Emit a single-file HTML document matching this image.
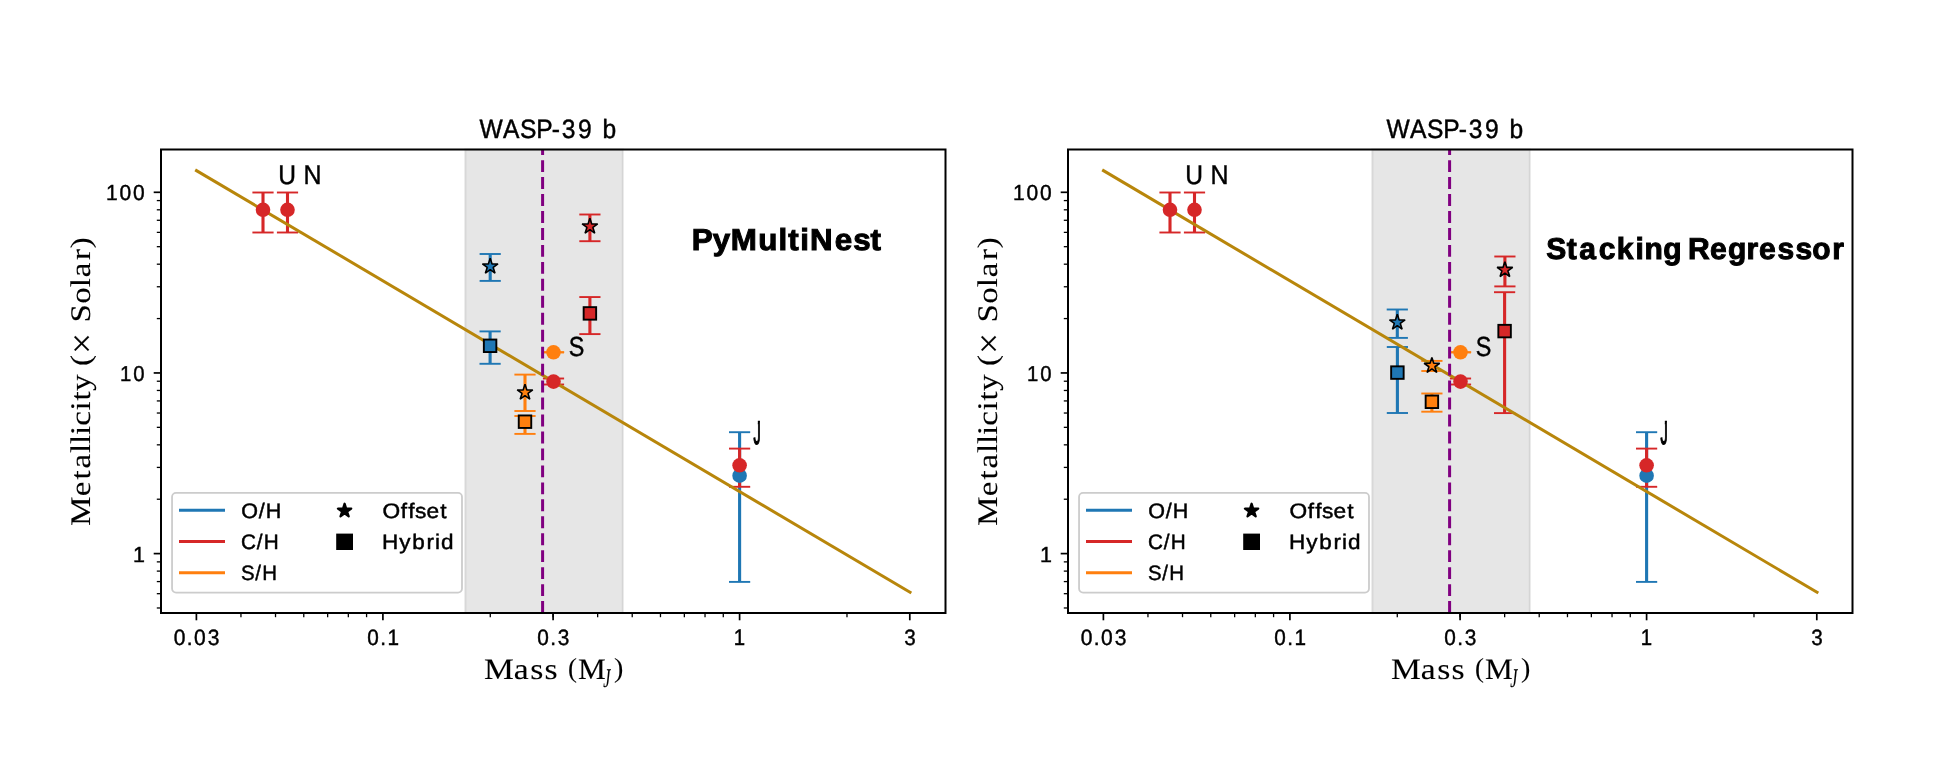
<!DOCTYPE html>
<html><head><meta charset="utf-8"><style>
html,body{margin:0;padding:0;background:#fff;width:1956px;height:780px;overflow:hidden}
svg{display:block;will-change:transform}
text{font-kerning:none;text-rendering:geometricPrecision}
</style></head><body>
<svg width="1956" height="780" viewBox="0 0 1956 780">
<rect width="1956" height="780" fill="#fff"/>
<rect x="465.30" y="149.5" width="157.50" height="463.5" fill="rgba(128,128,128,0.2)" stroke="rgba(128,128,128,0.2)" stroke-width="2"/>
<line x1="263.00" y1="192.50" x2="263.00" y2="232.50" stroke="#d62728" stroke-width="3.1"/>
<line x1="252.40" y1="192.50" x2="273.60" y2="192.50" stroke="#d62728" stroke-width="1.9"/>
<line x1="252.40" y1="232.50" x2="273.60" y2="232.50" stroke="#d62728" stroke-width="1.9"/>
<line x1="287.50" y1="192.50" x2="287.50" y2="232.50" stroke="#d62728" stroke-width="3.1"/>
<line x1="276.90" y1="192.50" x2="298.10" y2="192.50" stroke="#d62728" stroke-width="1.9"/>
<line x1="276.90" y1="232.50" x2="298.10" y2="232.50" stroke="#d62728" stroke-width="1.9"/>
<line x1="490.20" y1="254.00" x2="490.20" y2="280.90" stroke="#1f77b4" stroke-width="3.1"/>
<line x1="479.60" y1="254.00" x2="500.80" y2="254.00" stroke="#1f77b4" stroke-width="1.9"/>
<line x1="479.60" y1="280.90" x2="500.80" y2="280.90" stroke="#1f77b4" stroke-width="1.9"/>
<line x1="490.10" y1="331.40" x2="490.10" y2="363.80" stroke="#1f77b4" stroke-width="3.1"/>
<line x1="479.50" y1="331.40" x2="500.70" y2="331.40" stroke="#1f77b4" stroke-width="1.9"/>
<line x1="479.50" y1="363.80" x2="500.70" y2="363.80" stroke="#1f77b4" stroke-width="1.9"/>
<line x1="589.90" y1="214.50" x2="589.90" y2="241.20" stroke="#d62728" stroke-width="3.1"/>
<line x1="579.30" y1="214.50" x2="600.50" y2="214.50" stroke="#d62728" stroke-width="1.9"/>
<line x1="579.30" y1="241.20" x2="600.50" y2="241.20" stroke="#d62728" stroke-width="1.9"/>
<line x1="589.90" y1="297.05" x2="589.90" y2="334.10" stroke="#d62728" stroke-width="3.1"/>
<line x1="579.30" y1="297.05" x2="600.50" y2="297.05" stroke="#d62728" stroke-width="1.9"/>
<line x1="579.30" y1="334.10" x2="600.50" y2="334.10" stroke="#d62728" stroke-width="1.9"/>
<line x1="525.00" y1="374.60" x2="525.00" y2="411.00" stroke="#ff7f0e" stroke-width="3.1"/>
<line x1="514.40" y1="374.60" x2="535.60" y2="374.60" stroke="#ff7f0e" stroke-width="1.9"/>
<line x1="514.40" y1="411.00" x2="535.60" y2="411.00" stroke="#ff7f0e" stroke-width="1.9"/>
<line x1="525.00" y1="416.00" x2="525.00" y2="433.90" stroke="#ff7f0e" stroke-width="3.1"/>
<line x1="514.40" y1="416.00" x2="535.60" y2="416.00" stroke="#ff7f0e" stroke-width="1.9"/>
<line x1="514.40" y1="433.90" x2="535.60" y2="433.90" stroke="#ff7f0e" stroke-width="1.9"/>
<line x1="739.60" y1="432.20" x2="739.60" y2="581.90" stroke="#1f77b4" stroke-width="3.1"/>
<line x1="729.00" y1="432.20" x2="750.20" y2="432.20" stroke="#1f77b4" stroke-width="1.9"/>
<line x1="729.00" y1="581.90" x2="750.20" y2="581.90" stroke="#1f77b4" stroke-width="1.9"/>
<line x1="739.60" y1="448.60" x2="739.60" y2="486.80" stroke="#d62728" stroke-width="3.1"/>
<line x1="729.00" y1="448.60" x2="750.20" y2="448.60" stroke="#d62728" stroke-width="1.9"/>
<line x1="729.00" y1="486.80" x2="750.20" y2="486.80" stroke="#d62728" stroke-width="1.9"/>
<line x1="553.50" y1="352.30" x2="553.50" y2="352.30" stroke="#ff7f0e" stroke-width="3.1"/>
<line x1="542.90" y1="352.30" x2="564.10" y2="352.30" stroke="#ff7f0e" stroke-width="1.9"/>
<line x1="542.90" y1="352.30" x2="564.10" y2="352.30" stroke="#ff7f0e" stroke-width="1.9"/>
<line x1="553.50" y1="378.50" x2="553.50" y2="384.50" stroke="#d62728" stroke-width="3.1"/>
<line x1="542.90" y1="378.50" x2="564.10" y2="378.50" stroke="#d62728" stroke-width="1.9"/>
<line x1="542.90" y1="384.50" x2="564.10" y2="384.50" stroke="#d62728" stroke-width="1.9"/>
<line x1="195.20" y1="169.9" x2="911.30" y2="593.0" stroke="#b8860b" stroke-width="3.0"/>
<path d="M542.60,613.0 L542.60,149.5" stroke="#800080" stroke-width="3" stroke-dasharray="11.9 5.06"/>
<circle cx="263.00" cy="209.80" r="7.3" fill="#d62728"/>
<circle cx="287.50" cy="209.80" r="7.3" fill="#d62728"/>
<path d="M490.20,258.30 L492.04,263.97 L498.00,263.97 L493.18,267.47 L495.02,273.13 L490.20,269.63 L485.38,273.13 L487.22,267.47 L482.40,263.97 L488.36,263.97 Z" fill="#1f77b4" stroke="#000" stroke-width="1.6" stroke-linejoin="bevel"/>
<rect x="483.85" y="339.55" width="12.5" height="12.5" fill="#1f77b4" stroke="#000" stroke-width="1.9"/>
<path d="M589.90,218.30 L591.74,223.97 L597.70,223.97 L592.88,227.47 L594.72,233.13 L589.90,229.63 L585.08,233.13 L586.92,227.47 L582.10,223.97 L588.06,223.97 Z" fill="#d62728" stroke="#000" stroke-width="1.6" stroke-linejoin="bevel"/>
<rect x="583.65" y="307.15" width="12.5" height="12.5" fill="#d62728" stroke="#000" stroke-width="1.9"/>
<path d="M525.00,384.30 L526.84,389.97 L532.80,389.97 L527.98,393.47 L529.82,399.13 L525.00,395.63 L520.18,399.13 L522.02,393.47 L517.20,389.97 L523.16,389.97 Z" fill="#ff7f0e" stroke="#000" stroke-width="1.6" stroke-linejoin="bevel"/>
<rect x="518.75" y="415.45" width="12.5" height="12.5" fill="#ff7f0e" stroke="#000" stroke-width="1.9"/>
<circle cx="739.60" cy="475.70" r="7.3" fill="#1f77b4"/>
<circle cx="739.60" cy="465.30" r="7.3" fill="#d62728"/>
<circle cx="553.50" cy="352.30" r="7.3" fill="#ff7f0e"/>
<circle cx="553.50" cy="381.60" r="7.3" fill="#d62728"/>
<line x1="196.39" y1="613.0" x2="196.39" y2="620.3" stroke="#000" stroke-width="1.7"/>
<line x1="382.90" y1="613.0" x2="382.90" y2="620.3" stroke="#000" stroke-width="1.7"/>
<line x1="553.09" y1="613.0" x2="553.09" y2="620.3" stroke="#000" stroke-width="1.7"/>
<line x1="739.60" y1="613.0" x2="739.60" y2="620.3" stroke="#000" stroke-width="1.7"/>
<line x1="909.79" y1="613.0" x2="909.79" y2="620.3" stroke="#000" stroke-width="1.7"/>
<line x1="240.95" y1="613.0" x2="240.95" y2="617.2" stroke="#000" stroke-width="1.3"/>
<line x1="275.52" y1="613.0" x2="275.52" y2="617.2" stroke="#000" stroke-width="1.3"/>
<line x1="303.77" y1="613.0" x2="303.77" y2="617.2" stroke="#000" stroke-width="1.3"/>
<line x1="327.65" y1="613.0" x2="327.65" y2="617.2" stroke="#000" stroke-width="1.3"/>
<line x1="348.33" y1="613.0" x2="348.33" y2="617.2" stroke="#000" stroke-width="1.3"/>
<line x1="366.58" y1="613.0" x2="366.58" y2="617.2" stroke="#000" stroke-width="1.3"/>
<line x1="490.28" y1="613.0" x2="490.28" y2="617.2" stroke="#000" stroke-width="1.3"/>
<line x1="553.09" y1="613.0" x2="553.09" y2="617.2" stroke="#000" stroke-width="1.3"/>
<line x1="597.65" y1="613.0" x2="597.65" y2="617.2" stroke="#000" stroke-width="1.3"/>
<line x1="632.22" y1="613.0" x2="632.22" y2="617.2" stroke="#000" stroke-width="1.3"/>
<line x1="660.47" y1="613.0" x2="660.47" y2="617.2" stroke="#000" stroke-width="1.3"/>
<line x1="684.35" y1="613.0" x2="684.35" y2="617.2" stroke="#000" stroke-width="1.3"/>
<line x1="705.03" y1="613.0" x2="705.03" y2="617.2" stroke="#000" stroke-width="1.3"/>
<line x1="723.28" y1="613.0" x2="723.28" y2="617.2" stroke="#000" stroke-width="1.3"/>
<line x1="846.98" y1="613.0" x2="846.98" y2="617.2" stroke="#000" stroke-width="1.3"/>
<line x1="161.0" y1="553.60" x2="153.7" y2="553.60" stroke="#000" stroke-width="1.7"/>
<line x1="161.0" y1="372.95" x2="153.7" y2="372.95" stroke="#000" stroke-width="1.7"/>
<line x1="161.0" y1="192.30" x2="153.7" y2="192.30" stroke="#000" stroke-width="1.7"/>
<line x1="161.0" y1="607.98" x2="156.8" y2="607.98" stroke="#000" stroke-width="1.3"/>
<line x1="161.0" y1="593.68" x2="156.8" y2="593.68" stroke="#000" stroke-width="1.3"/>
<line x1="161.0" y1="581.58" x2="156.8" y2="581.58" stroke="#000" stroke-width="1.3"/>
<line x1="161.0" y1="571.11" x2="156.8" y2="571.11" stroke="#000" stroke-width="1.3"/>
<line x1="161.0" y1="561.87" x2="156.8" y2="561.87" stroke="#000" stroke-width="1.3"/>
<line x1="161.0" y1="499.22" x2="156.8" y2="499.22" stroke="#000" stroke-width="1.3"/>
<line x1="161.0" y1="467.41" x2="156.8" y2="467.41" stroke="#000" stroke-width="1.3"/>
<line x1="161.0" y1="444.84" x2="156.8" y2="444.84" stroke="#000" stroke-width="1.3"/>
<line x1="161.0" y1="427.33" x2="156.8" y2="427.33" stroke="#000" stroke-width="1.3"/>
<line x1="161.0" y1="413.03" x2="156.8" y2="413.03" stroke="#000" stroke-width="1.3"/>
<line x1="161.0" y1="400.93" x2="156.8" y2="400.93" stroke="#000" stroke-width="1.3"/>
<line x1="161.0" y1="390.46" x2="156.8" y2="390.46" stroke="#000" stroke-width="1.3"/>
<line x1="161.0" y1="381.22" x2="156.8" y2="381.22" stroke="#000" stroke-width="1.3"/>
<line x1="161.0" y1="318.57" x2="156.8" y2="318.57" stroke="#000" stroke-width="1.3"/>
<line x1="161.0" y1="286.76" x2="156.8" y2="286.76" stroke="#000" stroke-width="1.3"/>
<line x1="161.0" y1="264.19" x2="156.8" y2="264.19" stroke="#000" stroke-width="1.3"/>
<line x1="161.0" y1="246.68" x2="156.8" y2="246.68" stroke="#000" stroke-width="1.3"/>
<line x1="161.0" y1="232.38" x2="156.8" y2="232.38" stroke="#000" stroke-width="1.3"/>
<line x1="161.0" y1="220.28" x2="156.8" y2="220.28" stroke="#000" stroke-width="1.3"/>
<line x1="161.0" y1="209.81" x2="156.8" y2="209.81" stroke="#000" stroke-width="1.3"/>
<line x1="161.0" y1="200.57" x2="156.8" y2="200.57" stroke="#000" stroke-width="1.3"/>
<rect x="161.0" y="149.5" width="784.5" height="463.5" fill="none" stroke="#000" stroke-width="2"/>
<text transform="translate(112.19,200.38) scale(0.9672,1)" x="-6.33 7.67 21.56" y="0" font-family='"Liberation Sans", sans-serif' font-weight="normal" font-style="normal" font-size="21.70" fill="#000" stroke="#000" stroke-width="0.45">100</text>
<text transform="translate(125.87,381.17) scale(0.9472,1)" x="-6.25 7.70" y="0" font-family='"Liberation Sans", sans-serif' font-weight="normal" font-style="normal" font-size="21.41" fill="#000" stroke="#000" stroke-width="0.45">10</text>
<text transform="translate(139.35,561.98) scale(0.9873,1)" x="-6.34" y="0" font-family='"Liberation Sans", sans-serif' font-weight="normal" font-style="normal" font-size="21.73" fill="#000" stroke="#000" stroke-width="0.45">1</text>
<text transform="translate(179.60,644.77) scale(0.9502,1)" x="-6.15 7.61 15.23 29.51" y="0" font-family='"Liberation Sans", sans-serif' font-weight="normal" font-style="normal" font-size="22.13" fill="#000" stroke="#000" stroke-width="0.45">0.03</text>
<text transform="translate(373.02,644.77) scale(0.9366,1)" x="-6.15 7.77 15.44" y="0" font-family='"Liberation Sans", sans-serif' font-weight="normal" font-style="normal" font-size="22.13" fill="#000" stroke="#000" stroke-width="0.45">0.1</text>
<text transform="translate(543.08,644.77) scale(0.9404,1)" x="-6.15 7.72 15.48" y="0" font-family='"Liberation Sans", sans-serif' font-weight="normal" font-style="normal" font-size="22.13" fill="#000" stroke="#000" stroke-width="0.45">0.3</text>
<text transform="translate(739.60,644.77) scale(0.9081,1)" x="-6.55" y="0" font-family='"Liberation Sans", sans-serif' font-weight="normal" font-style="normal" font-size="22.46" fill="#000" stroke="#000" stroke-width="0.45">1</text>
<text transform="translate(909.79,644.77) scale(0.9313,1)" x="-6.09" y="0" font-family='"Liberation Sans", sans-serif' font-weight="normal" font-style="normal" font-size="22.13" fill="#000" stroke="#000" stroke-width="0.45">3</text>
<text transform="translate(491.22,137.97) scale(0.9320,1)" x="-12.48 12.66 30.94 48.30 64.87 75.64 93.02 106.46 119.52" y="0" font-family='"Liberation Sans", sans-serif' font-weight="normal" font-style="normal" font-size="26.43" fill="#000" stroke="#000" stroke-width="0.45">WASP-39 b</text>
<text transform="translate(498.84,678.85) scale(1.1301,1)" x="-13.23 13.29 27.80 40.43" y="0" font-family='"Liberation Serif", serif' font-weight="normal" font-style="normal" font-size="29.78" fill="#000" stroke="#000" stroke-width="0.1">Mass</text>
<text transform="translate(572.50,677.10) scale(0.9783,1)" x="-4.73" y="0" font-family='"Liberation Serif", serif' font-weight="normal" font-style="normal" font-size="27.46" fill="#000" stroke="#000" stroke-width="0.1">(</text>
<text transform="translate(591.95,678.85) scale(1.0505,1)" x="-13.23" y="0" font-family='"Liberation Serif", serif' font-weight="normal" font-style="normal" font-size="29.78" fill="#000" stroke="#000" stroke-width="0.1">M</text>
<text transform="translate(607.20,687.19) scale(0.5953,1)" x="-6.71" y="0" font-family='"Liberation Serif", serif' font-weight="normal" font-style="italic" font-size="26.94" fill="#000" stroke="#000" stroke-width="0.1">J</text>
<text transform="translate(618.55,677.10) scale(1.0208,1)" x="-4.41" y="0" font-family='"Liberation Serif", serif' font-weight="normal" font-style="normal" font-size="27.46" fill="#000" stroke="#000" stroke-width="0.1">)</text>
<text transform="translate(90.35,524.20) rotate(-90) scale(1.0030,1)" x="169.79" y="3.84" font-family='"Liberation Serif", serif' font-size="37.17" fill="#000" stroke="#000" stroke-width="0.1">×</text>
<text transform="translate(90.35,524.20) rotate(-90) scale(1.1644,1)" x="-1.58 23.99 38.48 47.81 61.15 68.79 76.58 84.55 97.61 106.30 114.31 128.40 135.81 144.35 144.35 173.25 189.36 203.53 212.08 226.81 236.98" y="0" font-family='"Liberation Serif", serif' font-weight="normal" font-style="normal" font-size="28.39" fill="#000" stroke="#000" stroke-width="0.1">Metallicity (  Solar)</text>
<text transform="translate(287.00,183.58) scale(0.9111,1)" x="-9.74" y="0" font-family='"Liberation Sans", sans-serif' font-weight="normal" font-style="normal" font-size="26.96" fill="#000" stroke="#000" stroke-width="0.45">U</text>
<text transform="translate(312.40,183.58) scale(0.9262,1)" x="-9.74" y="0" font-family='"Liberation Sans", sans-serif' font-weight="normal" font-style="normal" font-size="26.96" fill="#000" stroke="#000" stroke-width="0.45">N</text>
<text transform="translate(576.45,355.77) scale(0.8474,1)" x="-9.19" y="0" font-family='"Liberation Sans", sans-serif' font-weight="normal" font-style="normal" font-size="27.57" fill="#000" stroke="#000" stroke-width="0.45">S</text>
<clipPath id="jclip0"><rect x="757.87" y="410" width="20" height="45"/><rect x="740" y="424.90" width="40" height="30.10"/></clipPath>
<g clip-path="url(#jclip0)"><text transform="translate(753.38,443.78) scale(0.5533,1.2623)" x="0" y="0" font-family='"Liberation Sans", sans-serif' font-size="26.0" fill="#000" stroke="#000" stroke-width="1.2">J</text></g>
<rect x="172.05" y="492.9" width="289.95" height="99.70" rx="4" ry="4" fill="#fff" fill-opacity="0.8" stroke="#cccccc" stroke-width="1.8"/>
<line x1="179" y1="510.30" x2="225" y2="510.30" stroke="#1f77b4" stroke-width="3.1"/>
<line x1="179" y1="541.55" x2="225" y2="541.55" stroke="#d62728" stroke-width="3.1"/>
<line x1="179" y1="572.80" x2="225" y2="572.80" stroke="#ff7f0e" stroke-width="3.1"/>
<text transform="translate(249.53,517.88) scale(1.0295,1)" x="-8.13 8.95 15.79" y="0" font-family='"Liberation Sans", sans-serif' font-weight="normal" font-style="normal" font-size="20.91" fill="#000" stroke="#000" stroke-width="0.45">O/H</text>
<text transform="translate(248.52,549.17) scale(0.9917,1)" x="-7.68 8.29 15.44" y="0" font-family='"Liberation Sans", sans-serif' font-weight="normal" font-style="normal" font-size="20.91" fill="#000" stroke="#000" stroke-width="0.45">C/H</text>
<text transform="translate(247.71,580.48) scale(0.9770,1)" x="-6.97 7.66 14.98" y="0" font-family='"Liberation Sans", sans-serif' font-weight="normal" font-style="normal" font-size="20.91" fill="#000" stroke="#000" stroke-width="0.45">S/H</text>
<path d="M344.60,503.70 L346.17,508.54 L351.26,508.54 L347.14,511.53 L348.71,516.36 L344.60,513.37 L340.49,516.36 L342.06,511.53 L337.94,508.54 L343.03,508.54 Z" fill="#000" stroke="#000" stroke-width="2.2" stroke-linejoin="round"/>
<rect x="336.2" y="533.6" width="16.8" height="16.4" fill="#000"/>
<text transform="translate(391.34,517.88) scale(1.0849,1)" x="-8.14 8.61 15.58 21.78 32.33 45.12" y="0" font-family='"Liberation Sans", sans-serif' font-weight="normal" font-style="normal" font-size="20.94" fill="#000" stroke="#000" stroke-width="0.45">Offset</text>
<text transform="translate(390.20,549.17) scale(1.0774,1)" x="-7.55 8.45 20.49 33.74 41.52 47.18" y="0" font-family='"Liberation Sans", sans-serif' font-weight="normal" font-style="normal" font-size="20.91" fill="#000" stroke="#000" stroke-width="0.45">Hybrid</text>
<text transform="translate(702.80,250.30) scale(1.0366,1)" x="-10.57 9.50 27.01 53.39 73.13 82.41 93.92 103.31 127.25 145.06 161.71" y="0" font-family='"Liberation Sans", sans-serif' font-weight="bold" font-style="normal" font-size="30.22" fill="#000" stroke="#000" stroke-width="1.0">PyMultiNest</text>
<rect x="1372.30" y="149.5" width="157.50" height="463.5" fill="rgba(128,128,128,0.2)" stroke="rgba(128,128,128,0.2)" stroke-width="2"/>
<line x1="1170.00" y1="192.50" x2="1170.00" y2="232.50" stroke="#d62728" stroke-width="3.1"/>
<line x1="1159.40" y1="192.50" x2="1180.60" y2="192.50" stroke="#d62728" stroke-width="1.9"/>
<line x1="1159.40" y1="232.50" x2="1180.60" y2="232.50" stroke="#d62728" stroke-width="1.9"/>
<line x1="1194.50" y1="192.50" x2="1194.50" y2="232.50" stroke="#d62728" stroke-width="3.1"/>
<line x1="1183.90" y1="192.50" x2="1205.10" y2="192.50" stroke="#d62728" stroke-width="1.9"/>
<line x1="1183.90" y1="232.50" x2="1205.10" y2="232.50" stroke="#d62728" stroke-width="1.9"/>
<line x1="1397.30" y1="309.50" x2="1397.30" y2="337.90" stroke="#1f77b4" stroke-width="3.1"/>
<line x1="1386.70" y1="309.50" x2="1407.90" y2="309.50" stroke="#1f77b4" stroke-width="1.9"/>
<line x1="1386.70" y1="337.90" x2="1407.90" y2="337.90" stroke="#1f77b4" stroke-width="1.9"/>
<line x1="1397.40" y1="347.00" x2="1397.40" y2="413.00" stroke="#1f77b4" stroke-width="3.1"/>
<line x1="1386.80" y1="347.00" x2="1408.00" y2="347.00" stroke="#1f77b4" stroke-width="1.9"/>
<line x1="1386.80" y1="413.00" x2="1408.00" y2="413.00" stroke="#1f77b4" stroke-width="1.9"/>
<line x1="1504.90" y1="256.50" x2="1504.90" y2="286.40" stroke="#d62728" stroke-width="3.1"/>
<line x1="1494.30" y1="256.50" x2="1515.50" y2="256.50" stroke="#d62728" stroke-width="1.9"/>
<line x1="1494.30" y1="286.40" x2="1515.50" y2="286.40" stroke="#d62728" stroke-width="1.9"/>
<line x1="1504.60" y1="292.20" x2="1504.60" y2="413.10" stroke="#d62728" stroke-width="3.1"/>
<line x1="1494.00" y1="292.20" x2="1515.20" y2="292.20" stroke="#d62728" stroke-width="1.9"/>
<line x1="1494.00" y1="413.10" x2="1515.20" y2="413.10" stroke="#d62728" stroke-width="1.9"/>
<line x1="1431.90" y1="360.90" x2="1431.90" y2="371.00" stroke="#ff7f0e" stroke-width="3.1"/>
<line x1="1421.30" y1="360.90" x2="1442.50" y2="360.90" stroke="#ff7f0e" stroke-width="1.9"/>
<line x1="1421.30" y1="371.00" x2="1442.50" y2="371.00" stroke="#ff7f0e" stroke-width="1.9"/>
<line x1="1431.90" y1="393.50" x2="1431.90" y2="411.70" stroke="#ff7f0e" stroke-width="3.1"/>
<line x1="1421.30" y1="393.50" x2="1442.50" y2="393.50" stroke="#ff7f0e" stroke-width="1.9"/>
<line x1="1421.30" y1="411.70" x2="1442.50" y2="411.70" stroke="#ff7f0e" stroke-width="1.9"/>
<line x1="1646.60" y1="432.20" x2="1646.60" y2="581.90" stroke="#1f77b4" stroke-width="3.1"/>
<line x1="1636.00" y1="432.20" x2="1657.20" y2="432.20" stroke="#1f77b4" stroke-width="1.9"/>
<line x1="1636.00" y1="581.90" x2="1657.20" y2="581.90" stroke="#1f77b4" stroke-width="1.9"/>
<line x1="1646.60" y1="448.60" x2="1646.60" y2="486.80" stroke="#d62728" stroke-width="3.1"/>
<line x1="1636.00" y1="448.60" x2="1657.20" y2="448.60" stroke="#d62728" stroke-width="1.9"/>
<line x1="1636.00" y1="486.80" x2="1657.20" y2="486.80" stroke="#d62728" stroke-width="1.9"/>
<line x1="1460.50" y1="352.30" x2="1460.50" y2="352.30" stroke="#ff7f0e" stroke-width="3.1"/>
<line x1="1449.90" y1="352.30" x2="1471.10" y2="352.30" stroke="#ff7f0e" stroke-width="1.9"/>
<line x1="1449.90" y1="352.30" x2="1471.10" y2="352.30" stroke="#ff7f0e" stroke-width="1.9"/>
<line x1="1460.50" y1="378.50" x2="1460.50" y2="384.50" stroke="#d62728" stroke-width="3.1"/>
<line x1="1449.90" y1="378.50" x2="1471.10" y2="378.50" stroke="#d62728" stroke-width="1.9"/>
<line x1="1449.90" y1="384.50" x2="1471.10" y2="384.50" stroke="#d62728" stroke-width="1.9"/>
<line x1="1102.20" y1="169.9" x2="1818.30" y2="593.0" stroke="#b8860b" stroke-width="3.0"/>
<path d="M1449.60,613.0 L1449.60,149.5" stroke="#800080" stroke-width="3" stroke-dasharray="11.9 5.06"/>
<circle cx="1170.00" cy="209.80" r="7.3" fill="#d62728"/>
<circle cx="1194.50" cy="209.80" r="7.3" fill="#d62728"/>
<path d="M1397.30,314.30 L1399.14,319.97 L1405.10,319.97 L1400.28,323.47 L1402.12,329.13 L1397.30,325.63 L1392.48,329.13 L1394.32,323.47 L1389.50,319.97 L1395.46,319.97 Z" fill="#1f77b4" stroke="#000" stroke-width="1.6" stroke-linejoin="bevel"/>
<rect x="1391.15" y="366.35" width="12.5" height="12.5" fill="#1f77b4" stroke="#000" stroke-width="1.9"/>
<path d="M1504.90,261.70 L1506.74,267.37 L1512.70,267.37 L1507.88,270.87 L1509.72,276.53 L1504.90,273.03 L1500.08,276.53 L1501.92,270.87 L1497.10,267.37 L1503.06,267.37 Z" fill="#d62728" stroke="#000" stroke-width="1.6" stroke-linejoin="bevel"/>
<rect x="1498.35" y="324.85" width="12.5" height="12.5" fill="#d62728" stroke="#000" stroke-width="1.9"/>
<path d="M1431.90,357.60 L1433.74,363.27 L1439.70,363.27 L1434.88,366.77 L1436.72,372.43 L1431.90,368.93 L1427.08,372.43 L1428.92,366.77 L1424.10,363.27 L1430.06,363.27 Z" fill="#ff7f0e" stroke="#000" stroke-width="1.6" stroke-linejoin="bevel"/>
<rect x="1425.65" y="395.55" width="12.5" height="12.5" fill="#ff7f0e" stroke="#000" stroke-width="1.9"/>
<circle cx="1646.60" cy="475.70" r="7.3" fill="#1f77b4"/>
<circle cx="1646.60" cy="465.30" r="7.3" fill="#d62728"/>
<circle cx="1460.50" cy="352.30" r="7.3" fill="#ff7f0e"/>
<circle cx="1460.50" cy="381.60" r="7.3" fill="#d62728"/>
<line x1="1103.39" y1="613.0" x2="1103.39" y2="620.3" stroke="#000" stroke-width="1.7"/>
<line x1="1289.90" y1="613.0" x2="1289.90" y2="620.3" stroke="#000" stroke-width="1.7"/>
<line x1="1460.09" y1="613.0" x2="1460.09" y2="620.3" stroke="#000" stroke-width="1.7"/>
<line x1="1646.60" y1="613.0" x2="1646.60" y2="620.3" stroke="#000" stroke-width="1.7"/>
<line x1="1816.79" y1="613.0" x2="1816.79" y2="620.3" stroke="#000" stroke-width="1.7"/>
<line x1="1147.95" y1="613.0" x2="1147.95" y2="617.2" stroke="#000" stroke-width="1.3"/>
<line x1="1182.52" y1="613.0" x2="1182.52" y2="617.2" stroke="#000" stroke-width="1.3"/>
<line x1="1210.77" y1="613.0" x2="1210.77" y2="617.2" stroke="#000" stroke-width="1.3"/>
<line x1="1234.65" y1="613.0" x2="1234.65" y2="617.2" stroke="#000" stroke-width="1.3"/>
<line x1="1255.33" y1="613.0" x2="1255.33" y2="617.2" stroke="#000" stroke-width="1.3"/>
<line x1="1273.58" y1="613.0" x2="1273.58" y2="617.2" stroke="#000" stroke-width="1.3"/>
<line x1="1397.28" y1="613.0" x2="1397.28" y2="617.2" stroke="#000" stroke-width="1.3"/>
<line x1="1460.09" y1="613.0" x2="1460.09" y2="617.2" stroke="#000" stroke-width="1.3"/>
<line x1="1504.65" y1="613.0" x2="1504.65" y2="617.2" stroke="#000" stroke-width="1.3"/>
<line x1="1539.22" y1="613.0" x2="1539.22" y2="617.2" stroke="#000" stroke-width="1.3"/>
<line x1="1567.47" y1="613.0" x2="1567.47" y2="617.2" stroke="#000" stroke-width="1.3"/>
<line x1="1591.35" y1="613.0" x2="1591.35" y2="617.2" stroke="#000" stroke-width="1.3"/>
<line x1="1612.03" y1="613.0" x2="1612.03" y2="617.2" stroke="#000" stroke-width="1.3"/>
<line x1="1630.28" y1="613.0" x2="1630.28" y2="617.2" stroke="#000" stroke-width="1.3"/>
<line x1="1753.98" y1="613.0" x2="1753.98" y2="617.2" stroke="#000" stroke-width="1.3"/>
<line x1="1068.0" y1="553.60" x2="1060.7" y2="553.60" stroke="#000" stroke-width="1.7"/>
<line x1="1068.0" y1="372.95" x2="1060.7" y2="372.95" stroke="#000" stroke-width="1.7"/>
<line x1="1068.0" y1="192.30" x2="1060.7" y2="192.30" stroke="#000" stroke-width="1.7"/>
<line x1="1068.0" y1="607.98" x2="1063.8" y2="607.98" stroke="#000" stroke-width="1.3"/>
<line x1="1068.0" y1="593.68" x2="1063.8" y2="593.68" stroke="#000" stroke-width="1.3"/>
<line x1="1068.0" y1="581.58" x2="1063.8" y2="581.58" stroke="#000" stroke-width="1.3"/>
<line x1="1068.0" y1="571.11" x2="1063.8" y2="571.11" stroke="#000" stroke-width="1.3"/>
<line x1="1068.0" y1="561.87" x2="1063.8" y2="561.87" stroke="#000" stroke-width="1.3"/>
<line x1="1068.0" y1="499.22" x2="1063.8" y2="499.22" stroke="#000" stroke-width="1.3"/>
<line x1="1068.0" y1="467.41" x2="1063.8" y2="467.41" stroke="#000" stroke-width="1.3"/>
<line x1="1068.0" y1="444.84" x2="1063.8" y2="444.84" stroke="#000" stroke-width="1.3"/>
<line x1="1068.0" y1="427.33" x2="1063.8" y2="427.33" stroke="#000" stroke-width="1.3"/>
<line x1="1068.0" y1="413.03" x2="1063.8" y2="413.03" stroke="#000" stroke-width="1.3"/>
<line x1="1068.0" y1="400.93" x2="1063.8" y2="400.93" stroke="#000" stroke-width="1.3"/>
<line x1="1068.0" y1="390.46" x2="1063.8" y2="390.46" stroke="#000" stroke-width="1.3"/>
<line x1="1068.0" y1="381.22" x2="1063.8" y2="381.22" stroke="#000" stroke-width="1.3"/>
<line x1="1068.0" y1="318.57" x2="1063.8" y2="318.57" stroke="#000" stroke-width="1.3"/>
<line x1="1068.0" y1="286.76" x2="1063.8" y2="286.76" stroke="#000" stroke-width="1.3"/>
<line x1="1068.0" y1="264.19" x2="1063.8" y2="264.19" stroke="#000" stroke-width="1.3"/>
<line x1="1068.0" y1="246.68" x2="1063.8" y2="246.68" stroke="#000" stroke-width="1.3"/>
<line x1="1068.0" y1="232.38" x2="1063.8" y2="232.38" stroke="#000" stroke-width="1.3"/>
<line x1="1068.0" y1="220.28" x2="1063.8" y2="220.28" stroke="#000" stroke-width="1.3"/>
<line x1="1068.0" y1="209.81" x2="1063.8" y2="209.81" stroke="#000" stroke-width="1.3"/>
<line x1="1068.0" y1="200.57" x2="1063.8" y2="200.57" stroke="#000" stroke-width="1.3"/>
<rect x="1068.0" y="149.5" width="784.5" height="463.5" fill="none" stroke="#000" stroke-width="2"/>
<text transform="translate(1019.19,200.38) scale(0.9672,1)" x="-6.33 7.67 21.56" y="0" font-family='"Liberation Sans", sans-serif' font-weight="normal" font-style="normal" font-size="21.70" fill="#000" stroke="#000" stroke-width="0.45">100</text>
<text transform="translate(1032.87,381.17) scale(0.9472,1)" x="-6.25 7.70" y="0" font-family='"Liberation Sans", sans-serif' font-weight="normal" font-style="normal" font-size="21.41" fill="#000" stroke="#000" stroke-width="0.45">10</text>
<text transform="translate(1046.35,561.98) scale(0.9873,1)" x="-6.34" y="0" font-family='"Liberation Sans", sans-serif' font-weight="normal" font-style="normal" font-size="21.73" fill="#000" stroke="#000" stroke-width="0.45">1</text>
<text transform="translate(1086.60,644.77) scale(0.9502,1)" x="-6.15 7.61 15.23 29.51" y="0" font-family='"Liberation Sans", sans-serif' font-weight="normal" font-style="normal" font-size="22.13" fill="#000" stroke="#000" stroke-width="0.45">0.03</text>
<text transform="translate(1280.02,644.77) scale(0.9366,1)" x="-6.15 7.77 15.44" y="0" font-family='"Liberation Sans", sans-serif' font-weight="normal" font-style="normal" font-size="22.13" fill="#000" stroke="#000" stroke-width="0.45">0.1</text>
<text transform="translate(1450.08,644.77) scale(0.9404,1)" x="-6.15 7.72 15.48" y="0" font-family='"Liberation Sans", sans-serif' font-weight="normal" font-style="normal" font-size="22.13" fill="#000" stroke="#000" stroke-width="0.45">0.3</text>
<text transform="translate(1646.60,644.77) scale(0.9081,1)" x="-6.55" y="0" font-family='"Liberation Sans", sans-serif' font-weight="normal" font-style="normal" font-size="22.46" fill="#000" stroke="#000" stroke-width="0.45">1</text>
<text transform="translate(1816.79,644.77) scale(0.9313,1)" x="-6.09" y="0" font-family='"Liberation Sans", sans-serif' font-weight="normal" font-style="normal" font-size="22.13" fill="#000" stroke="#000" stroke-width="0.45">3</text>
<text transform="translate(1398.22,137.97) scale(0.9320,1)" x="-12.48 12.66 30.94 48.30 64.87 75.64 93.02 106.46 119.52" y="0" font-family='"Liberation Sans", sans-serif' font-weight="normal" font-style="normal" font-size="26.43" fill="#000" stroke="#000" stroke-width="0.45">WASP-39 b</text>
<text transform="translate(1405.84,678.85) scale(1.1301,1)" x="-13.23 13.29 27.80 40.43" y="0" font-family='"Liberation Serif", serif' font-weight="normal" font-style="normal" font-size="29.78" fill="#000" stroke="#000" stroke-width="0.1">Mass</text>
<text transform="translate(1479.50,677.10) scale(0.9783,1)" x="-4.73" y="0" font-family='"Liberation Serif", serif' font-weight="normal" font-style="normal" font-size="27.46" fill="#000" stroke="#000" stroke-width="0.1">(</text>
<text transform="translate(1498.95,678.85) scale(1.0505,1)" x="-13.23" y="0" font-family='"Liberation Serif", serif' font-weight="normal" font-style="normal" font-size="29.78" fill="#000" stroke="#000" stroke-width="0.1">M</text>
<text transform="translate(1514.20,687.19) scale(0.5953,1)" x="-6.71" y="0" font-family='"Liberation Serif", serif' font-weight="normal" font-style="italic" font-size="26.94" fill="#000" stroke="#000" stroke-width="0.1">J</text>
<text transform="translate(1525.55,677.10) scale(1.0208,1)" x="-4.41" y="0" font-family='"Liberation Serif", serif' font-weight="normal" font-style="normal" font-size="27.46" fill="#000" stroke="#000" stroke-width="0.1">)</text>
<text transform="translate(997.35,524.20) rotate(-90) scale(1.0030,1)" x="169.79" y="3.84" font-family='"Liberation Serif", serif' font-size="37.17" fill="#000" stroke="#000" stroke-width="0.1">×</text>
<text transform="translate(997.35,524.20) rotate(-90) scale(1.1644,1)" x="-1.58 23.99 38.48 47.81 61.15 68.79 76.58 84.55 97.61 106.30 114.31 128.40 135.81 144.35 144.35 173.25 189.36 203.53 212.08 226.81 236.98" y="0" font-family='"Liberation Serif", serif' font-weight="normal" font-style="normal" font-size="28.39" fill="#000" stroke="#000" stroke-width="0.1">Metallicity (  Solar)</text>
<text transform="translate(1194.00,183.58) scale(0.9111,1)" x="-9.74" y="0" font-family='"Liberation Sans", sans-serif' font-weight="normal" font-style="normal" font-size="26.96" fill="#000" stroke="#000" stroke-width="0.45">U</text>
<text transform="translate(1219.40,183.58) scale(0.9262,1)" x="-9.74" y="0" font-family='"Liberation Sans", sans-serif' font-weight="normal" font-style="normal" font-size="26.96" fill="#000" stroke="#000" stroke-width="0.45">N</text>
<text transform="translate(1483.45,355.77) scale(0.8474,1)" x="-9.19" y="0" font-family='"Liberation Sans", sans-serif' font-weight="normal" font-style="normal" font-size="27.57" fill="#000" stroke="#000" stroke-width="0.45">S</text>
<clipPath id="jclip907"><rect x="1664.87" y="410" width="20" height="45"/><rect x="1647" y="424.90" width="40" height="30.10"/></clipPath>
<g clip-path="url(#jclip907)"><text transform="translate(1660.38,443.78) scale(0.5533,1.2623)" x="0" y="0" font-family='"Liberation Sans", sans-serif' font-size="26.0" fill="#000" stroke="#000" stroke-width="1.2">J</text></g>
<rect x="1079.05" y="492.9" width="289.95" height="99.70" rx="4" ry="4" fill="#fff" fill-opacity="0.8" stroke="#cccccc" stroke-width="1.8"/>
<line x1="1086" y1="510.30" x2="1132" y2="510.30" stroke="#1f77b4" stroke-width="3.1"/>
<line x1="1086" y1="541.55" x2="1132" y2="541.55" stroke="#d62728" stroke-width="3.1"/>
<line x1="1086" y1="572.80" x2="1132" y2="572.80" stroke="#ff7f0e" stroke-width="3.1"/>
<text transform="translate(1156.53,517.88) scale(1.0295,1)" x="-8.13 8.95 15.79" y="0" font-family='"Liberation Sans", sans-serif' font-weight="normal" font-style="normal" font-size="20.91" fill="#000" stroke="#000" stroke-width="0.45">O/H</text>
<text transform="translate(1155.52,549.17) scale(0.9917,1)" x="-7.68 8.29 15.44" y="0" font-family='"Liberation Sans", sans-serif' font-weight="normal" font-style="normal" font-size="20.91" fill="#000" stroke="#000" stroke-width="0.45">C/H</text>
<text transform="translate(1154.71,580.48) scale(0.9770,1)" x="-6.97 7.66 14.98" y="0" font-family='"Liberation Sans", sans-serif' font-weight="normal" font-style="normal" font-size="20.91" fill="#000" stroke="#000" stroke-width="0.45">S/H</text>
<path d="M1251.60,503.70 L1253.17,508.54 L1258.26,508.54 L1254.14,511.53 L1255.71,516.36 L1251.60,513.37 L1247.49,516.36 L1249.06,511.53 L1244.94,508.54 L1250.03,508.54 Z" fill="#000" stroke="#000" stroke-width="2.2" stroke-linejoin="round"/>
<rect x="1243.2" y="533.6" width="16.8" height="16.4" fill="#000"/>
<text transform="translate(1298.34,517.88) scale(1.0849,1)" x="-8.14 8.61 15.58 21.78 32.33 45.12" y="0" font-family='"Liberation Sans", sans-serif' font-weight="normal" font-style="normal" font-size="20.94" fill="#000" stroke="#000" stroke-width="0.45">Offset</text>
<text transform="translate(1297.20,549.17) scale(1.0774,1)" x="-7.55 8.45 20.49 33.74 41.52 47.18" y="0" font-family='"Liberation Sans", sans-serif' font-weight="normal" font-style="normal" font-size="20.91" fill="#000" stroke="#000" stroke-width="0.45">Hybrid</text>
<text transform="translate(1556.15,258.50) scale(0.9933,1)" x="-9.92 10.57 23.17 42.79 61.00 79.83 89.07 107.84 124.28 132.71 154.82 173.08 191.63 204.35 222.94 241.01 257.96 278.06" y="0" font-family='"Liberation Sans", sans-serif' font-weight="bold" font-style="normal" font-size="30.22" fill="#000" stroke="#000" stroke-width="1.0">Stacking Regressor</text>
</svg>
</body></html>
